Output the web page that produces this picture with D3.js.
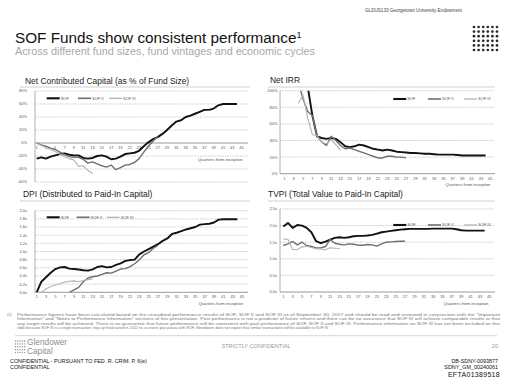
<!DOCTYPE html>
<html>
<head>
<meta charset="utf-8">
<script src="https://cdn.jsdelivr.net/npm/d3@7"></script>
<style>
  body { margin: 0; background: #fff; }
  svg { display: block; font-family: "Liberation Sans", Arial, sans-serif; }
</style>
</head>
<body>
<div id="chart-ctn"></div>
<script>
// Chart data (index 0 = quarter 1)
const quarterTicks = [1, 3, 5, 7, 9, 11, 13, 15, 17, 19, 21, 23, 25, 27, 29, 31, 33, 35, 37, 39, 41, 43, 45];
const seriesNames = ["SOF", "SOF II", "SOF III"];

const nccSOF = [-24, -22, -24, -21, -19, -17, -16, -18, -19, -19, -23, -24, -23, -20, -19, -21, -25, -24, -21, -17, -16, -15, -12, -5, 1, 6, 9, 14, 20, 27, 33, 35, 40, 42, 45, 48, 51, 51, 53, 58, 60, 60, 60, 60];
const nccSOF2 = [0, -3, -5, -8, -10, -14, -18, -21, -22, -22, -25, -31, -29, -32, -35, -37, -34, -41, -38, -34, -33, -30, -24, -14, -5, 3, 10];
const nccSOF3 = [0, -4, -7, -10, -13, -17, -21, -24, -26, -36, -35, -42, -47];
const nccTicks = [80, 60, 40, 20, 0, -20, -40, -60];

const irrSOF = [null, null, null, null, null, 105, 70, 45, 43, 42, 43, 42, 38, 33, 32, 33, 35, 34, 32, 30, 29, 28, 29, 28, 26.5, 26, 25.5, 25, 25, 24.5, 24, 24, 23.5, 23, 23, 23, 23, 22.5, 22, 22, 22, 22, 22, 22];
const irrSOF2 = [null, null, null, 110, 90, 75, 70, 45, 38, 34, 45, 40, 34, 30, 31, 29, 27, 25, 23, 21, 19, 19, 21, 21, 20, 20, 19];
const irrSOF3 = [null, null, null, 85, 95, 67, 47, 46, 38, 36, 41, 35, 28];
const irrTicks = [100, 80, 60, 40, 20, 0];

const dpiSOF = [0, 0.26, 0.37, 0.48, 0.57, 0.61, 0.62, 0.58, 0.57, 0.56, 0.54, 0.53, 0.56, 0.62, 0.64, 0.61, 0.62, 0.67, 0.71, 0.77, 0.79, 0.8, 0.93, 1.0, 1.06, 1.12, 1.18, 1.26, 1.32, 1.43, 1.46, 1.5, 1.54, 1.57, 1.6, 1.66, 1.67, 1.68, 1.71, 1.78, 1.79, 1.79, 1.79, 1.79];
const dpiSOF2 = [null, null, null, null, null, null, null, 0, 0.06, 0.12, 0.26, 0.35, 0.38, 0.4, 0.44, 0.48, 0.47, 0.52, 0.57, 0.58, 0.63, 0.7, 0.8, 0.92, 0.97, 1.08, 1.15];
const dpiSOF3 = [null, 0, 0.08, 0.14, 0.18, 0.21, 0.25, 0.27, 0.28, 0.26, 0.29, 0.31, 0.33];
const dpiTicks = [2.0, 1.8, 1.6, 1.4, 1.2, 1.0, 0.8, 0.6, 0.4, 0.2, 0.0];

const tvpiSOF = [1.97, 2.08, 1.93, 2.02, 2.0, 1.93, 1.8, 1.53, 1.47, 1.52, 1.58, 1.63, 1.65, 1.63, 1.65, 1.68, 1.69, 1.69, 1.7, 1.72, 1.76, 1.8, 1.82, 1.84, 1.86, 1.88, 1.89, 1.9, 1.9, 1.9, 1.9, 1.9, 1.91, 1.91, 1.91, 1.91, 1.91, 1.89, 1.86, 1.85, 1.85, 1.85, 1.85, 1.85];
const tvpiSOF2 = [1.4, 1.45, 1.52, 1.42, 1.5, 1.4, 1.37, 1.33, 1.33, 1.37, 1.58, 1.47, 1.44, 1.42, 1.45, 1.44, 1.41, 1.41, 1.43, 1.42, 1.38, 1.45, 1.5, 1.51, 1.52, 1.53, 1.53];
const tvpiSOF3 = [1.6, 1.58, 1.28, 1.28, 1.36, 1.38, 1.34, 1.3, 1.3, 1.27, 1.33, 1.32, 1.31];
const tvpiTicks = [2.5, 2.0, 1.5, 1.0, 0.5, 0.0];

const footnote = [
  "Performance figures have been calculated based on the unaudited performance results of SOF, SOF II and SOF III as of September 30, 2017 and should be read and reviewed in conjunction with the \u201cImportant",
  "Information\u201d and \u201cNotes to Performance Information\u201d sections of this presentation. Past performance is not a predictor of future returns and there can be no assurance that SOF IV will achieve comparable results or that",
  "any target results will be achieved. There is no guarantee that future performance will be consistent with past performance of SOF, SOF II and SOF III. Performance information on SOF III has not been included on this",
  "slide because SOF III is a single transaction / top-up fund raised in 2012 to co-invest pari-passu with SOF. Glendower does not expect that similar transactions will be available to SOF IV."
];

let width = 512;
let height = 388;

const lineColors = ["#111111", "#6f6f6f", "#b3b3b3"];
const lineWidths = [1.9, 1.4, 1.1];

let svg = d3.select("#chart-ctn")
    .append("svg")
    .attr("width", width)
    .attr("height", height);

function drawPanel(p) {
    const g = svg.append("g");

    g.append("text")
        .attr("x", p.titleX)
        .attr("y", p.titleY)
        .style("font-size", "8.45px")
        .style("fill", "#222")
        .text(p.title);

    g.append("line")
        .attr("x1", p.divX[0]).attr("x2", p.divX[1])
        .attr("y1", p.divY).attr("y2", p.divY)
        .attr("stroke", "#b0b0b0")
        .attr("stroke-width", 0.6);

    let x = d3.scaleLinear().domain([1, 45]).range([p.q1X, p.q45X]);
    let y = d3.scaleLinear().domain(p.domain).range([p.bottom, p.top]);

    // dashed grid, solid line at zero
    g.selectAll(".grid")
        .data(p.ticks.filter((d) => d !== 0))
        .join("line")
        .attr("x1", p.axisX).attr("x2", p.right)
        .attr("y1", (d) => y(d)).attr("y2", (d) => y(d))
        .attr("stroke", "#9a9a9a")
        .attr("stroke-width", 0.6)
        .attr("stroke-dasharray", "1.2,1.3");

    g.append("line")
        .attr("x1", p.axisX).attr("x2", p.right)
        .attr("y1", y(0)).attr("y2", y(0))
        .attr("stroke", "#808080")
        .attr("stroke-width", 0.8);

    g.append("line")
        .attr("x1", p.axisX).attr("x2", p.axisX)
        .attr("y1", p.top).attr("y2", p.bottom)
        .attr("stroke", "#909090")
        .attr("stroke-width", 0.7);

    g.selectAll(".ylab")
        .data(p.ticks)
        .join("text")
        .attr("x", p.labelX)
        .attr("y", (d) => y(d) + 1.4)
        .attr("text-anchor", "end")
        .style("font-size", "4px")
        .style("fill", "#555")
        .text(p.fmt);

    g.selectAll(".xlab")
        .data(quarterTicks)
        .join("text")
        .attr("x", (d) => x(d))
        .attr("y", y(0) + 6)
        .attr("text-anchor", "middle")
        .style("font-size", "4px")
        .style("fill", "#555")
        .text((d) => d);

    g.append("text")
        .attr("x", p.qfi[0])
        .attr("y", p.qfi[1])
        .attr("text-anchor", "end")
        .style("font-size", "4.3px")
        .style("fill", "#555")
        .text("Quarters from inception");

    // clip lines that run off the top
    g.append("clipPath")
        .attr("id", p.id + "-clip")
        .append("rect")
        .attr("x", p.axisX)
        .attr("y", p.top)
        .attr("width", p.right - p.axisX)
        .attr("height", p.bottom - p.top);

    let line = d3.line()
        .defined((d) => d[1] != null)
        .x((d) => x(d[0]))
        .y((d) => y(d[1]));

    p.series.forEach((vals, i) => {
        let pts = vals.map((v, k) => [k + 1, v]);
        g.append("path")
            .datum(pts)
            .attr("clip-path", `url(#${p.id}-clip)`)
            .attr("fill", "none")
            .attr("stroke", lineColors[i])
            .attr("stroke-width", lineWidths[i])
            .attr("stroke-linejoin", "round")
            .attr("d", line);
    });

    // legend
    seriesNames.forEach((name, i) => {
        let lx = p.legendX[i];
        g.append("line")
            .attr("x1", lx).attr("x2", lx + 13)
            .attr("y1", p.legendY).attr("y2", p.legendY)
            .attr("stroke", lineColors[i])
            .attr("stroke-width", lineWidths[i] + 0.2);
        g.append("text")
            .attr("x", lx + 14)
            .attr("y", p.legendY + 1.4)
            .style("font-size", "4px")
            .style("fill", "#555")
            .text(name);
    });
}

function drawSlide() {
    // header
    svg.append("text")
        .attr("x", 365).attr("y", 11.5)
        .style("font-size", "4.6px")
        .style("fill", "#444")
        .text("GLDUS133 Georgetown University Endowment");

    let title = svg.append("text")
        .attr("x", 15).attr("y", 42.5)
        .style("font-size", "15.3px")
        .style("fill", "#111");
    title.append("tspan").text("SOF Funds show consistent performance");
    title.append("tspan").attr("dy", -5).style("font-size", "9px").text("1");

    svg.append("text")
        .attr("x", 15).attr("y", 55)
        .style("font-size", "10.8px")
        .style("fill", "#a8a8a8")
        .text("Across different fund sizes, fund vintages and economic cycles");

    // dot logo top right
    let dots = [];
    for (let r = 0; r < 6; r++) for (let c = 0; c < 6; c++) dots.push([c, r]);
    svg.append("g").selectAll("circle")
        .data(dots)
        .join("circle")
        .attr("cx", (d) => 474 + d[0] * 4.6)
        .attr("cy", (d) => 27 + d[1] * 4.6)
        .attr("r", 1.35)
        .attr("fill", "#2a2a2a");

    drawPanel({
        id: "ncc", title: "Net Contributed Capital (as % of Fund Size)",
        titleX: 25, titleY: 83.5, divX: [20, 250], divY: 87,
        axisX: 35, right: 248, top: 91, bottom: 182, labelX: 27,
        domain: [-60, 80], ticks: nccTicks, fmt: (d) => d + "%",
        q1X: 36.6, q45X: 241.6,
        legendY: 98.3, legendX: [46.7, 78, 109],
        qfi: [242.7, 161],
        series: [nccSOF, nccSOF2, nccSOF3]
    });

    drawPanel({
        id: "irr", title: "Net IRR",
        titleX: 270, titleY: 83, divX: [268, 495], divY: 87,
        axisX: 280, right: 495, top: 90.7, bottom: 173.7, labelX: 277.5,
        domain: [0, 100], ticks: irrTicks, fmt: (d) => d + "%",
        q1X: 284.3, q45X: 490.3,
        legendY: 99, legendX: [393.3, 428, 464],
        qfi: [490.5, 186],
        series: [irrSOF, irrSOF2, irrSOF3]
    });

    drawPanel({
        id: "dpi", title: "DPI (Distributed to Paid-In Capital)",
        titleX: 23, titleY: 197, divX: [20, 250], divY: 201,
        axisX: 35, right: 248, top: 210.7, bottom: 292.3, labelX: 27,
        domain: [0, 2], ticks: dpiTicks, fmt: (d) => d.toFixed(1) + "x",
        q1X: 36.7, q45X: 242,
        legendY: 217.3, legendX: [46.7, 76.7, 106.7],
        qfi: [243.3, 304.5],
        series: [dpiSOF, dpiSOF2, dpiSOF3]
    });

    drawPanel({
        id: "tvpi", title: "TVPI (Total Value to Paid-In Capital)",
        titleX: 268, titleY: 197, divX: [268, 495], divY: 201,
        axisX: 280, right: 495, top: 209, bottom: 292, labelX: 277,
        domain: [0, 2.5], ticks: tvpiTicks, fmt: (d) => d.toFixed(1) + "x",
        q1X: 283.3, q45X: 489.3,
        legendY: 225, legendX: [393.3, 428, 464],
        qfi: [488.5, 304.5],
        series: [tvpiSOF, tvpiSOF2, tvpiSOF3]
    });

    // footnote
    svg.append("text")
        .attr("x", 7).attr("y", 316)
        .style("font-size", "3.8px")
        .style("fill", "#777")
        .text("(1)");
    svg.selectAll(".fn")
        .data(footnote)
        .join("text")
        .attr("x", 17)
        .attr("y", (d, i) => 316 + i * 4.3)
        .attr("textLength", (d, i) => (i < 3 ? 483 : null))
        .attr("lengthAdjust", "spacingAndGlyphs")
        .style("font-size", "3.8px")
        .style("fill", "#777")
        .text((d) => d);

    svg.append("line")
        .attr("x1", 15).attr("x2", 497)
        .attr("y1", 335.7).attr("y2", 335.7)
        .attr("stroke", "#bbb")
        .attr("stroke-width", 0.6);

    // footer logo
    let fdots = [];
    for (let r = 0; r < 5; r++) for (let c = 0; c < 5; c++) fdots.push([c, r]);
    svg.append("g").selectAll("circle")
        .data(fdots)
        .join("circle")
        .attr("cx", (d) => 15.5 + d[0] * 2.3)
        .attr("cy", (d) => 341 + d[1] * 2.9)
        .attr("r", 0.7)
        .attr("fill", "#8a8a8a");

    svg.append("text").attr("x", 27).attr("y", 345)
        .style("font-size", "8.3px").style("fill", "#8f8f8f").text("Glendower");
    svg.append("text").attr("x", 27).attr("y", 354)
        .style("font-size", "8.3px").style("fill", "#8f8f8f").text("Capital");

    svg.append("text").attr("x", 256).attr("y", 347.5)
        .attr("text-anchor", "middle")
        .style("font-size", "5.6px").style("fill", "#999")
        .text("STRICTLY CONFIDENTIAL");
    svg.append("text").attr("x", 498).attr("y", 347.5)
        .attr("text-anchor", "end")
        .style("font-size", "5.6px").style("fill", "#999")
        .text("20");

    // bank stamps
    svg.append("text").attr("x", 10).attr("y", 363)
        .style("font-size", "5.4px").style("fill", "#111")
        .text("CONFIDENTIAL - PURSUANT TO FED. R. CRIM. P. 6(e)");
    svg.append("text").attr("x", 10).attr("y", 368.5)
        .style("font-size", "5.4px").style("fill", "#111")
        .text("CONFIDENTIAL");
    svg.append("text").attr("x", 498).attr("y", 363)
        .attr("text-anchor", "end")
        .style("font-size", "5.4px").style("fill", "#111")
        .text("DB-SDNY-0093877");
    svg.append("text").attr("x", 498).attr("y", 368.5)
        .attr("text-anchor", "end")
        .style("font-size", "5.4px").style("fill", "#111")
        .text("SDNY_GM_00240061");
    svg.append("text").attr("x", 500).attr("y", 377)
        .attr("text-anchor", "end")
        .style("font-size", "7px").style("fill", "#111")
        .style("letter-spacing", "0.3px")
        .text("EFTA01389518");
}

drawSlide();
</script>
</body>
</html>
